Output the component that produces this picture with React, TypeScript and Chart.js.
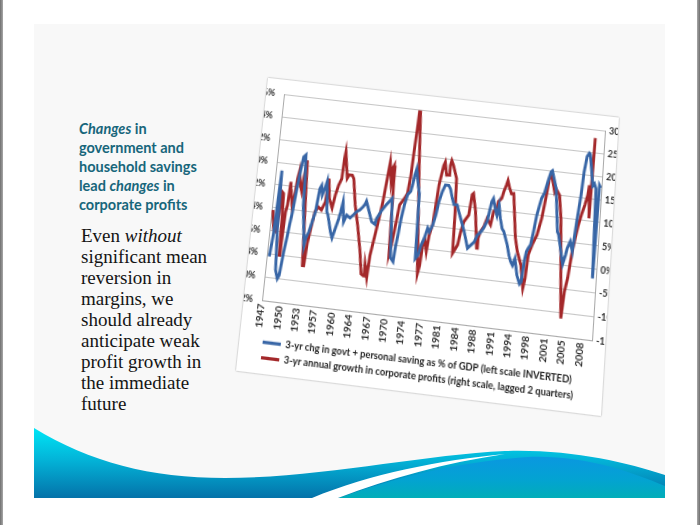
import React, { useEffect, useRef } from 'react';
import { Chart, registerables } from 'chart.js';
Chart.register(...registerables);

// ---------------- data ----------------
const X_TICK_LABELS = ['1947','1950','1953','1957','1960','1964','1967','1970','1974','1977','1981','1984','1988','1991','1994','1998','2001','2005','2008'];
const X_FIRST = 1947;
const X_TICK_STEP = 41 / 12; // label every 41 months
const X_MIN = 1947;
const X_MAX = 2010.75;

const LEFT_MIN = -6, LEFT_MAX = 12, LEFT_STEP = 2;     // left scale (inverted)
const RIGHT_MIN = -15, RIGHT_MAX = 30, RIGHT_STEP = 5; // right scale

const BLUE_LABEL = '3-yr chg in govt + personal saving as % of GDP (left scale INVERTED)';
const RED_LABEL = '3-yr annual growth in corporate profits (right scale, lagged 2 quarters)';

const BLUE_YEARS = [
  1947.5,1947.85,1948.2,1948.5,1949.0,1949.5,1949.8,1950.2,1950.6,1950.8,
  1951.1,1951.5,1951.9,1952.2,1952.6,1952.9,1953.1,1954.0,1954.2,1954.7,
  1955.15,1955.6,1956.0,1956.3,1956.6,1957.0,1957.3,1957.6,1957.8,1958.1,
  1958.9,1959.3,1959.8,1960.25,1960.5,1960.8,1961.25,1961.5,1961.75,1962.45,
  1963.05,1963.6,1964.25,1964.8,1965.1,1965.35,1965.75,1966.7,1967.4,1967.6,
  1968.4,1969.25,1970.3,1971.0,1971.55,1971.8,1972.05,1972.4,1972.8,1973.25,
  1973.8,1974.05,1974.3,1974.6,1975.15,1975.5,1975.8,1976.25,1976.7,1977.2,
  1977.7,1978.05,1978.6,1979.05,1979.45,1979.95,1980.45,1981.1,1981.5,1982.0,
  1982.4,1983.05,1983.5,1983.9,1984.8,1985.7,1986.3,1986.9,1987.4,1988.0,
  1988.55,1989.1,1989.7,1990.0,1990.45,1990.9,1991.2,1991.6,1992.1,1992.45,
  1993.3,1993.8,1994.2,1994.6,1995.0,1995.6,1996.2,1996.5,1996.8,1997.1,
  1997.4,1997.8,1998.2,1998.6,1999.3,1999.8,2000.3,2000.8,2001.05,2001.5,
  2002.0,2002.8,2003.05,2004.2,2004.65,2004.9,2005.4,2005.9,2006.4,2006.9,
  2007.2,2007.6,2008.0,2008.2,2009.05,2009.35,2009.7,2010.1,2010.35,2010.6,
];
const BLUE_VALUES = [
  8.2,6.3,0.7,5.7,9.3,10.0,9.7,7.7,6.2,5.3,
  4.2,2.1,0.4,-0.7,-0.9,1.2,3.5,6.9,6.3,5.7,
  4.8,3.9,1.9,1.6,2.4,1.8,1.2,2.6,3.8,4.1,
  5.5,6.0,5.1,4.3,3.7,2.8,4.5,4.2,3.9,4.1,
  3.8,3.5,3.3,3.0,2.8,2.5,3.0,4.2,4.4,3.9,
  3.2,2.6,2.0,7.1,7.4,6.0,5.1,3.6,2.4,1.5,
  1.2,0.6,-0.2,-0.8,0.6,1.3,6.9,6.6,5.7,5.1,
  4.2,4.5,3.9,3.0,1.8,0.9,0.3,0.3,0.6,1.4,
  1.9,1.9,2.5,3.0,4.1,5.5,5.2,4.9,4.3,4.0,
  3.6,3.0,1.3,1.0,1.8,2.4,1.5,2.6,3.5,3.7,
  4.8,5.7,6.2,6.5,5.9,7.3,8.0,7.8,6.1,5.2,
  4.9,4.6,3.4,2.0,0.5,0.0,-1.0,-1.9,-2.0,-1.3,
  -0.5,3.2,3.4,5.9,5.1,4.5,3.9,4.7,2.1,-0.2,
  -2.2,-3.6,-3.9,-3.8,-1.1,-1.3,-0.9,6.8,-1.2,-1.0,
];

const RED_YEARS = [
  1947.25,1947.8,1948.3,1948.5,1948.65,1949.0,1949.2,1949.4,1949.55,1949.75,
  1950.0,1950.2,1950.35,1951.0,1951.45,1951.7,1952.1,1952.5,1952.7,1953.0,
  1953.45,1954.1,1954.35,1954.6,1955.1,1955.5,1956.05,1956.7,1957.35,1957.6,
  1958.05,1958.75,1959.15,1959.6,1960.1,1960.25,1960.4,1961.15,1961.5,1962.1,
  1962.45,1963.2,1964.05,1965.0,1965.6,1966.05,1966.2,1966.75,1967.0,1967.3,
  1967.6,1968.1,1968.55,1969.05,1969.3,1969.8,1970.0,1970.15,1970.3,1970.65,
  1970.95,1971.5,1971.85,1972.7,1973.2,1973.55,1973.75,1974.0,1974.15,1974.35,
  1975.0,1976.45,1976.75,1977.05,1977.3,1977.8,1978.1,1978.6,1978.9,1979.2,
  1979.6,1979.8,1980.05,1980.5,1980.95,1981.1,1981.3,1981.7,1982.5,1982.75,
  1982.9,1983.75,1984.15,1984.6,1985.45,1985.8,1986.05,1986.7,1987.45,1987.6,
  1987.95,1988.55,1989.05,1989.8,1990.2,1990.8,1991.0,1991.6,1991.9,1992.3,
  1992.55,1993.0,1993.4,1993.85,1994.8,1995.35,1996.2,1996.9,1997.2,1997.5,
  1998.1,1998.9,1999.6,2000.2,2000.55,2001.0,2001.75,2002.0,2002.75,2003.3,
  2004.55,2004.9,2005.35,2005.9,2006.3,2006.75,2007.2,2007.75,2008.2,2008.4,
  2008.7,2008.95,
];
const RED_VALUES = [
  4.5,0.2,-0.1,3.6,8.7,8.3,2.9,-5.0,-2.9,4.4,
  5.9,11.0,9.6,5.3,11.9,13.7,10.6,9.2,12.8,16.1,
  6.5,-6.6,-6.6,-1.8,2.2,5.2,6.3,5.7,7.6,12.7,
  8.4,6.4,9.3,11.5,13.0,17.4,19.0,13.2,14.0,14.0,
  13.3,7.7,3.4,-2.2,-6.9,-7.2,-4.7,-7.5,-2.7,-0.5,
  1.7,5.4,9.1,14.9,17.8,13.6,16.8,17.2,13.6,-1.8,
  0.0,5.2,8.8,10.3,11.5,15.5,20.6,25.6,29.6,29.6,
  17.8,-5.4,-3.6,1.5,2.2,-0.5,3.1,5.4,9.7,14.1,
  17.0,18.4,19.2,16.4,16.5,18.6,19.7,18.7,15.9,8.8,
  -0.2,1.7,4.6,6.8,8.4,12.8,13.1,9.3,1.5,3.7,
  5.1,6.3,8.1,6.8,9.7,10.5,12.0,12.8,14.3,15.7,
  16.8,15.1,14.0,14.1,4.6,1.8,-0.9,-5.8,-3.7,1.4,
  3.6,5.8,9.5,14.6,18.2,18.9,15.5,16.2,14.9,10.0,
  -11.2,-5.5,-2.6,3.2,6.1,9.0,11.2,13.4,15.6,17.8,
  10.7,28.2,
];

// ---------------- styling / layout ----------------
const BLUE = '#3866a6';
const RED = '#a3282a';
const GRID = '#c6c6c6';
const AXIS = '#a9a9a9';
const TICK_COLOR = '#2e2e2e';
const FONT = 'Lato';

const CANVAS_W = 356;
const CANVAS_H = 278;

// where the plot-area corners of the pasted (slightly skewed) picture sit on the slide
const PLOT_QUAD = [
  { x: 284, y: 94.5 },  // top-left
  { x: 605, y: 131 },   // top-right
  { x: 592, y: 340.6 }, // bottom-right
  { x: 262, y: 300.5 }, // bottom-left
];

function quadTransform(area: { left: number; top: number; right: number; bottom: number }, q: { x: number; y: number }[]) {
  const [p0, p1, p2, p3] = q;
  const dx1 = p1.x - p2.x, dx2 = p3.x - p2.x, dx3 = p0.x - p1.x + p2.x - p3.x;
  const dy1 = p1.y - p2.y, dy2 = p3.y - p2.y, dy3 = p0.y - p1.y + p2.y - p3.y;
  const den = dx1 * dy2 - dx2 * dy1;
  const g = (dx3 * dy2 - dx2 * dy3) / den;
  const h = (dx1 * dy3 - dx3 * dy1) / den;
  const a = p1.x - p0.x + g * p1.x;
  const b = p3.x - p0.x + h * p3.x;
  const c = p0.x;
  const d = p1.y - p0.y + g * p1.y;
  const e = p3.y - p0.y + h * p3.y;
  const f = p0.y;
  const L = area.left, T = area.top;
  const W = area.right - area.left, H = area.bottom - area.top;
  const m11 = a / W, m12 = d / W, m14 = g / W;
  const m21 = b / H, m22 = e / H, m24 = h / H;
  const m41 = c - (a * L) / W - (b * T) / H;
  const m42 = f - (d * L) / W - (e * T) / H;
  const m44 = 1 - (g * L) / W - (h * T) / H;
  return `matrix3d(${m11},${m12},0,${m14},${m21},${m22},0,${m24},0,0,1,0,${m41},${m42},0,${m44})`;
}

export default function App() {
  const canvasRef = useRef<HTMLCanvasElement>(null);
  const wrapRef = useRef<HTMLDivElement>(null);

  useEffect(() => {
    if (!canvasRef.current) return;
    const yFont = { family: FONT, size: 9, weight: 'bold' as const };
    const xFont = { family: FONT, size: 9.6, weight: 'bold' as const };
    const chart = new Chart(canvasRef.current, {
      type: 'line',
      data: {
        datasets: [
          {
            label: BLUE_LABEL,
            data: BLUE_YEARS.map((x, i) => ({ x, y: BLUE_VALUES[i] })),
            yAxisID: 'yL',
            borderColor: BLUE,
            backgroundColor: BLUE,
            borderWidth: 2.9,
            pointRadius: 0,
            tension: 0,
          },
          {
            label: RED_LABEL,
            data: RED_YEARS.map((x, i) => ({ x, y: RED_VALUES[i] })),
            yAxisID: 'yR',
            borderColor: RED,
            backgroundColor: RED,
            borderWidth: 2.9,
            pointRadius: 0,
            tension: 0,
          },
        ],
      },
      options: {
        animation: false,
        responsive: false,
        devicePixelRatio: 1,
        layout: { padding: { top: 13, bottom: 0, left: 0, right: 0 } },
        plugins: {
          tooltip: { enabled: false },
          legend: {
            position: 'bottom',
            align: 'start',
            fullSize: false,
            labels: {
              boxWidth: 18,
              boxHeight: 3,
              padding: 5,
              color: '#1e1e1e',
              font: { family: FONT, size: 9.2, weight: 'bold' },
              generateLabels: (ch: any) =>
                Chart.defaults.plugins.legend.labels.generateLabels(ch).map((l: any) => ({ ...l, lineWidth: 0 })),
            },
          },
        },
        scales: {
          x: {
            type: 'linear',
            min: X_MIN,
            max: X_MAX,
            grid: { display: false, drawTicks: false },
            border: { display: true, color: AXIS },
            ticks: {
              autoSkip: false,
              maxRotation: 90,
              minRotation: 90,
              padding: 3,
              color: TICK_COLOR,
              font: xFont,
              callback: (_v: any, i: number) => X_TICK_LABELS[i] ?? '',
            },
            afterBuildTicks: (s: any) => {
              s.ticks = X_TICK_LABELS.map((_, i) => ({ value: X_FIRST + i * X_TICK_STEP }));
            },
          },
          yL: {
            type: 'linear',
            position: 'left',
            reverse: true,
            min: LEFT_MIN,
            max: LEFT_MAX,
            grid: { color: GRID, drawTicks: false },
            border: { display: true, color: AXIS },
            ticks: { stepSize: LEFT_STEP, padding: 9, color: TICK_COLOR, font: yFont, callback: (v: any) => v + '%' },
            afterFit: (s: any) => { s.width = 18; },
          },
          yR: {
            type: 'linear',
            position: 'right',
            min: RIGHT_MIN,
            max: RIGHT_MAX,
            grid: { display: false, drawTicks: false },
            border: { display: true, color: AXIS },
            ticks: { stepSize: RIGHT_STEP, padding: 4, color: TICK_COLOR, font: yFont, callback: (v: any) => v + '%' },
            afterFit: (s: any) => { s.width = 13; },
          },
        },
      },
    } as any);
    if (wrapRef.current) {
      wrapRef.current.style.transform = quadTransform(chart.chartArea, PLOT_QUAD);
    }
    return () => chart.destroy();
  }, []);

  return (
    <div style={{ position: 'fixed', left: 0, top: 0, width: 700, height: 525, background: '#ffffff', overflow: 'hidden' }}>
      {/* outer frame lines */}
      <div style={{ position: 'absolute', left: 0, top: 0, width: 3, height: 525, background: 'linear-gradient(to right,#6f6f6f,#a8a8a8)' }} />
      <div style={{ position: 'absolute', left: 697, top: 0, width: 3, height: 525, background: 'linear-gradient(to right,#a8a8a8,#6f6f6f)' }} />
      {/* slide panel */}
      <div style={{ position: 'absolute', left: 34, top: 24, width: 631, height: 474, background: '#f8f8f8' }} />
      {/* bottom wave */}
      <svg width={700} height={525} style={{ position: 'absolute', left: 0, top: 0 }}>
        <defs>
          <linearGradient id="gMain" x1="0" y1="0" x2="0" y2="1">
            <stop offset="0" stopColor="#00e6f6" />
            <stop offset="0.45" stopColor="#03b4d8" />
            <stop offset="1" stopColor="#0472a9" />
          </linearGradient>
          <linearGradient id="gHump" x1="0" y1="0" x2="0" y2="1">
            <stop offset="0" stopColor="#0a98e0" />
            <stop offset="0.55" stopColor="#03a3d2" />
            <stop offset="1" stopColor="#01adb8" />
          </linearGradient>
        </defs>
        <path d="M34,428 C90,462 150,478 225,478 C320,478 420,455 505,451 C570,449 625,462 665,475 L665,498 L34,498 Z" fill="url(#gMain)" />
        <path d="M338,498 C395,478 455,462 528,457 C585,455 630,472 665,486 L665,498 Z" fill="url(#gHump)" />
        <path d="M312,498 C370,474 440,460 505,454 C445,463 390,478 338,498 Z" fill="#ffffff" />
      </svg>
      {/* heading */}
      <div style={{ position: 'absolute', left: 79, top: 118.5, fontFamily: 'Lato', fontWeight: 'bold', fontSize: 14.5, lineHeight: '19px', color: '#17667b', whiteSpace: 'nowrap' }}>
        <i>Changes</i> in<br />government and<br />household savings<br />lead <i>changes</i> in<br />corporate profits
      </div>
      {/* body */}
      <div style={{ position: 'absolute', left: 81, top: 224.5, fontFamily: '"Liberation Serif", serif', fontSize: 19, lineHeight: '21px', color: '#141414', whiteSpace: 'nowrap' }}>
        Even <i>without</i><br />significant mean<br />reversion in<br />margins, we<br />should already<br />anticipate weak<br />profit growth in<br />the immediate<br />future
      </div>
      {/* pasted chart picture */}
      <div
        ref={wrapRef}
        style={{ position: 'absolute', left: 0, top: 0, width: CANVAS_W, height: CANVAS_H, background: '#ffffff', transformOrigin: '0 0', boxShadow: '0 0 1.5px rgba(0,0,0,0.45)' }}
      >
        <canvas ref={canvasRef} width={CANVAS_W} height={CANVAS_H} style={{ display: 'block', width: CANVAS_W, height: CANVAS_H }} />
      </div>
    </div>
  );
}
